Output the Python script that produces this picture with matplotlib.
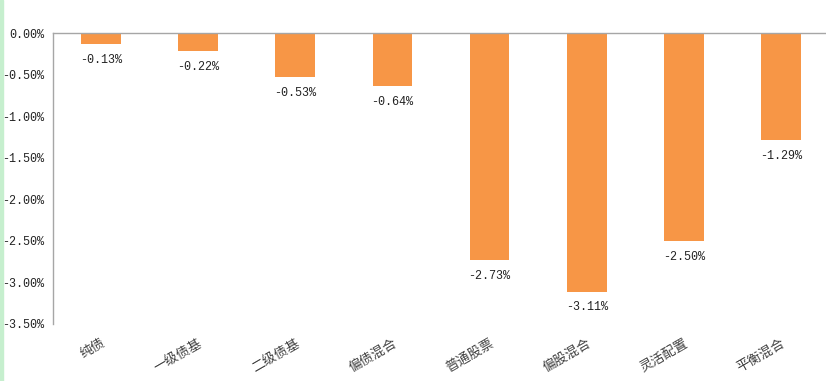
import matplotlib.pyplot as plt
from matplotlib.patches import Rectangle

categories = ['纯债', '一级债基', '二级债基', '偏债混合', '普通股票', '偏股混合', '灵活配置', '平衡混合']
values = [-0.13, -0.22, -0.53, -0.64, -2.73, -3.11, -2.50, -1.29]
yticks = [0, -0.5, -1.0, -1.5, -2.0, -2.5, -3.0, -3.5]

cjk = ['Noto Sans CJK SC', 'DejaVu Sans']
mono = ['Liberation Mono', 'DejaVu Sans Mono']

fig = plt.figure(figsize=(8.26, 3.81), dpi=100)
fig.patches.append(Rectangle((0, 0), 3 / 826, 1, transform=fig.transFigure,
                             color='#c6efce', zorder=0))
ax = fig.add_axes([52.5 / 826, 57 / 381, 777 / 826, 291 / 381])

x = range(len(categories))
ax.bar(x, values, width=0.41, color='#F79646', zorder=2)
for i, v in zip(x, values):
    ax.annotate(f'{v:.2f}%', (i, v), xytext=(0, -7), textcoords='offset points',
                ha='center', va='top', fontsize=8.5, family=mono, color='#222222')

ax.set_xlim(-0.5, len(categories) - 0.5)
ax.set_ylim(-3.5, 0)
ax.set_yticks(yticks)
ax.set_yticklabels([f'{t:.2f}%' for t in yticks], family=mono, fontsize=8.5, color='#222222')
ax.set_xticks(list(x))
ax.set_xticklabels(categories, family=cjk, fontsize=9.5, color='#404040',
                   rotation=30, ha='right', rotation_mode='anchor')
ax.tick_params(axis='both', length=0)
ax.tick_params(axis='y', pad=6)
ax.tick_params(axis='x', pad=9)

for s in ['right', 'bottom']:
    ax.spines[s].set_visible(False)
for s in ['left', 'top']:
    ax.spines[s].set_color('#a6a6a6')
    ax.spines[s].set_linewidth(1)

fig.savefig('out.png', dpi=100)
